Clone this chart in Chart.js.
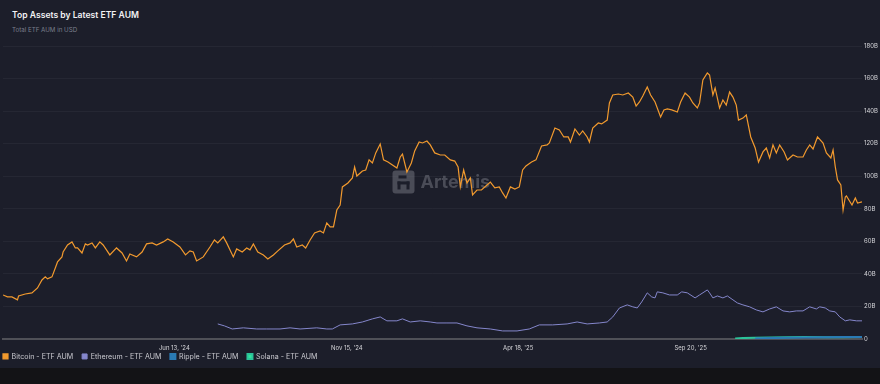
<!DOCTYPE html>
<html>
<head>
<meta charset="utf-8">
<script src="https://cdn.jsdelivr.net/npm/chart.js@4/dist/chart.umd.min.js"></script>
<style>
  html, body { margin: 0; padding: 0; background: #1c1e2a; width: 880px; height: 384px; overflow: hidden; font-family: Inter, "Noto Sans", sans-serif; }
  #title { position: absolute; left: 12px; top: 10px; color: #f2f2f4; font-size: 8.6px; font-weight: 600; }
  #subtitle { position: absolute; left: 12px; top: 26px; color: #7b7e8c; font-size: 6.2px; }
  #wrap { position: absolute; left: 0; top: 36px; width: 880px; height: 334px; }
  #band { position: absolute; left: 0; top: 368px; width: 880px; height: 16px; background: #131316; }
</style>
</head>
<body>
<div id="title">Top Assets by Latest ETF AUM</div>
<div id="subtitle">Total ETF AUM in USD</div>
<div id="wrap"><canvas id="aumChart"></canvas></div>
<div id="band"></div>
<script>
// days counted from 2024-01-11 (first spot bitcoin ETF day)
const btcDays = [0,4,8,13,14,20,26,31,35,38,40,44,47,49,53,54,58,62,65,67,71,74,76,80,83,87,90,93,96,102,107,111,114,120,125,129,134,138,144,148,153,159,164,168,171,174,180,186,190,193,198,201,207,210,215,219,222,225,229,234,238,243,247,253,258,261,264,269,272,276,280,285,288,291,294,297,300,303,305,310,314,316,318,323,326,329,332,335,339,342,346,350,354,357,359,363,367,370,374,377,381,384,388,393,397,402,406,409,411,414,417,420,422,426,430,435,438,442,446,449,452,456,460,464,467,470,475,479,484,489,491,496,500,504,508,510,514,518,521,525,527,530,535,538,543,545,548,553,557,562,566,569,572,575,579,582,586,591,594,597,601,606,609,613,617,620,624,626,629,633,635,638,640,644,647,650,653,656,659,661,665,668,672,676,679,683,686,689,692,695,698,702,705,710,714,719,722,725,728,732,737,740,744,746,748,750,753,755,757,758,763,766,768,772];
const btcValues = [27.0,25.8,25.8,24.0,26.4,27.6,28.3,31.3,36.2,38.1,36.9,38.1,43.6,47.3,50.4,53.4,57.7,59.6,55.9,55.9,52.8,58.4,57.7,59.0,55.9,59.6,57.7,54.7,51.6,55.9,52.8,47.9,52.2,50.4,53.4,58.4,59.0,57.7,59.6,61.4,59.6,56.5,51.6,54.1,53.4,47.9,50.4,56.5,60.8,59.0,62.7,59.0,50.4,55.3,53.4,55.9,54.7,58.4,53.4,51.6,49.1,51.6,54.1,57.7,59.0,61.4,56.5,57.7,55.9,60.8,65.1,66.3,65.1,71.3,68.8,68.8,79.2,82.3,93.4,95.8,98.9,105.7,100.1,103.2,103.8,110.0,108.1,114.3,119.8,110.0,108.7,106.9,105.0,111.8,113.6,102.6,108.1,115.5,121.0,120.4,121.6,119.2,114.3,113.0,113.0,110.0,109.3,105.7,93.4,103.8,95.8,98.9,88.5,91.5,91.5,94.6,96.4,92.8,93.4,89.7,86.6,93.4,92.1,93.4,103.8,106.3,108.7,110.0,118.6,119.2,120.4,129.6,128.4,124.1,124.1,121.0,129.0,125.3,127.8,124.1,121.0,129.6,132.7,132.1,134.5,145.0,149.9,150.5,149.9,151.1,148.6,143.1,145.6,149.3,154.8,149.9,145.6,136.4,140.7,141.3,140.7,139.4,145.6,151.1,148.6,145.0,141.9,145.0,159.1,163.4,162.2,149.9,154.2,141.9,146.8,143.7,151.7,148.6,143.7,134.5,135.7,137.6,124.1,117.3,108.7,114.9,117.3,111.2,119.2,114.3,119.2,114.9,110.0,113.0,111.8,111.8,116.1,119.2,116.7,124.1,120.4,114.3,111.2,116.1,105.7,97.7,94.6,79.2,87.2,87.8,82.3,86.6,83.5,84.2];

const ethDays = [193,199,206,216,228,237,249,258,267,282,291,296,303,314,323,332,339,345,354,359,366,375,384,390,399,408,417,426,438,449,462,473,482,494,507,516,525,536,543,548,554,561,566,570,574,579,583,586,588,593,599,606,610,615,622,626,633,635,638,642,647,651,656,660,665,671,677,683,689,695,701,707,713,719,725,731,734,739,743,748,752,757,761,767,772];
const ethValues = [9.2,8.0,6.1,6.8,6.1,6.1,6.1,6.8,6.1,6.8,6.1,6.1,8.6,9.2,10.4,12.3,13.5,11.1,11.1,12.3,10.4,11.1,10.4,9.8,9.8,9.8,8.0,6.8,6.1,4.9,4.9,6.1,8.6,8.6,9.2,10.4,9.2,9.8,10.4,13.5,19.0,20.9,19.7,19.0,22.7,28.3,25.8,25.2,28.9,28.3,27.0,27.0,28.9,28.3,25.2,27.0,30.1,28.3,25.2,26.4,25.2,26.4,24.0,22.1,20.9,19.7,17.8,16.6,18.4,19.7,17.2,16.6,17.2,17.2,19.7,18.4,19.7,19.0,17.2,16.6,13.5,11.1,11.7,11.1,11.1];

const xrpDays = [676,690,705,720,740,755,772];
const xrpValues = [0.2,0.5,0.7,0.9,1.0,1.1,1.2];

const solDays = [658,665,675,690,705,720,740,755,772];
const solValues = [0.3,0.5,0.7,0.9,1.0,1.1,1.0,1.0,1.1];

const xTickDays = [154, 309, 463, 618];
const xTickLabels = ["Jun 13, '24", "Nov 15, '24", "Apr 18, '25", "Sep 20, '25"];
const lastDay = 772;

const toPoints = (days, vals) => days.map((d, i) => ({ x: d, y: vals[i] }));

const watermark = {
    id: 'watermark',
    beforeDatasetsDraw(chart) {
        const { ctx, chartArea } = chart;
        const cx = (chartArea.left + chartArea.right) / 2;
        const cy = (chartArea.top + chartArea.bottom) / 2;
        const x0 = cx - 40, y0 = cy - 22;
        ctx.save();
        ctx.fillStyle = 'rgba(120,122,132,0.5)';
        ctx.beginPath();
        ctx.roundRect(x0, y0, 22, 23, 3);
        ctx.fill();
        ctx.fillStyle = '#1c1e2a';
        ctx.fillRect(x0 + 6, y0 + 5, 8, 3);
        ctx.fillRect(x0 + 5, y0 + 11, 12, 3);
        ctx.fillRect(x0 + 5, y0 + 11, 3, 8);
        ctx.fillRect(x0 + 14, y0 + 11, 3, 8);
        ctx.fillStyle = 'rgba(120,122,132,0.5)';
        ctx.font = 'bold 18px Inter, "Noto Sans", sans-serif';
        ctx.textBaseline = 'middle';
        ctx.fillText('Artemis', x0 + 28, y0 + 12);
        ctx.restore();
    }
};

// legend sits flush with the left edge in the original
const legendShift = {
    id: 'legendShift',
    afterLayout(chart) { chart.legend.left -= 9; }
};

new Chart(document.getElementById('aumChart'), {
    type: 'line',
    data: {
        datasets: [
            { label: 'Bitcoin - ETF AUM', data: toPoints(btcDays, btcValues), borderColor: '#f29a2e', backgroundColor: '#f29a2e', borderWidth: 1.2 },
            { label: 'Ethereum - ETF AUM', data: toPoints(ethDays, ethValues), borderColor: '#8587cc', backgroundColor: '#8587cc', borderWidth: 1 },
            { label: 'Ripple - ETF AUM', data: toPoints(xrpDays, xrpValues), borderColor: '#2a7bb5', backgroundColor: '#2a7bb5', borderWidth: 2 },
            { label: 'Solana - ETF AUM', data: toPoints(solDays, solValues), borderColor: '#2cc39a', backgroundColor: '#2ee69a', borderWidth: 2 }
        ]
    },
    options: {
        responsive: true,
        maintainAspectRatio: false,
        animation: false,
        parsing: false,
        layout: { padding: { left: 3, right: 0, top: 10, bottom: 0 } },
        elements: { point: { radius: 0 }, line: { tension: 0 } },
        scales: {
            x: {
                type: 'linear',
                min: 0,
                max: lastDay,
                afterBuildTicks: axis => { axis.ticks = xTickDays.map(v => ({ value: v })); },
                afterFit: axis => {
                    axis.height = 5;
                    axis._computeLabelArea = () => null; // labels hang over the legend strip
                },
                ticks: {
                    color: '#d4d4d8',
                    font: { size: 6, family: 'Inter' },
                    padding: 6,
                    maxRotation: 0,
                    callback: v => xTickLabels[xTickDays.indexOf(v)]
                },
                grid: { display: false, drawTicks: false },
                border: { display: true, color: '#4f5057', width: 2 }
            },
            y: {
                position: 'right',
                min: 0,
                max: 180,
                afterFit: axis => { axis.width = 18; },
                ticks: {
                    stepSize: 20,
                    color: '#d4d4d8',
                    font: { size: 6, family: 'Inter' },
                    padding: 2,
                    callback: v => v === 0 ? '0' : v + 'B'
                },
                grid: { color: 'rgba(255,255,255,0.045)', drawTicks: false },
                border: { display: false }
            }
        },
        plugins: {
            legend: {
                position: 'bottom',
                align: 'start',
                labels: {
                    color: '#c9c9cf',
                    font: { size: 7.1, family: 'Inter' },
                    boxWidth: 5,
                    boxHeight: 5,
                    padding: 9
                }
            },
            tooltip: { enabled: false }
        }
    },
    plugins: [watermark, legendShift]
});
</script>
</body>
</html>
